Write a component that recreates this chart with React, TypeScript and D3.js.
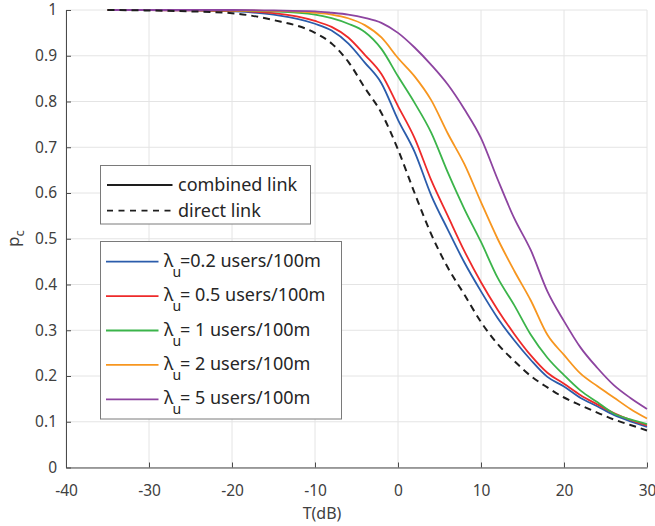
import { useEffect, useRef } from "react";
import * as d3 from "d3";

// T(dB) grid shared by every curve
const tValues = [-35, -30, -25, -20, -15, -10, -8, -6, -4, -2, 0, 2, 4, 6, 8, 10, 12, 14, 16, 18, 20, 22, 24, 26, 28, 30];

// direct link (dashed)
const directLink = [1.0, 0.999, 0.997, 0.993, 0.978, 0.95, 0.927, 0.887, 0.83, 0.775, 0.695, 0.6, 0.51, 0.437, 0.378, 0.318, 0.27, 0.233, 0.2, 0.175, 0.153, 0.136, 0.12, 0.105, 0.093, 0.081];

// combined link, one per lambda_u
const lambda02 = [1.0, 1.0, 0.999, 0.997, 0.99, 0.97, 0.955, 0.927, 0.885, 0.84, 0.76, 0.69, 0.595, 0.52, 0.448, 0.385, 0.327, 0.278, 0.235, 0.198, 0.177, 0.152, 0.134, 0.115, 0.101, 0.089];
const lambda05 = [1.0, 1.0, 0.999, 0.998, 0.993, 0.976, 0.963, 0.94, 0.902, 0.86, 0.79, 0.72, 0.628, 0.55, 0.473, 0.405, 0.345, 0.292, 0.245, 0.207, 0.183, 0.158, 0.138, 0.119, 0.104, 0.092];
const lambda1 = [1.0, 1.0, 1.0, 0.999, 0.997, 0.99, 0.982, 0.97, 0.952, 0.915, 0.855, 0.797, 0.732, 0.645, 0.565, 0.493, 0.415, 0.355, 0.29, 0.24, 0.202, 0.168, 0.143, 0.118, 0.105, 0.095];
const lambda2 = [1.0, 1.0, 1.0, 0.999, 0.998, 0.994, 0.99, 0.982, 0.967, 0.94, 0.895, 0.855, 0.803, 0.73, 0.663, 0.58, 0.5, 0.43, 0.365, 0.29, 0.246, 0.205, 0.178, 0.153, 0.128, 0.107];
const lambda5 = [1.0, 1.0, 1.0, 1.0, 0.999, 0.997, 0.994, 0.99, 0.983, 0.972, 0.95, 0.918, 0.88, 0.837, 0.783, 0.72, 0.63, 0.545, 0.475, 0.385, 0.32, 0.262, 0.218, 0.18, 0.152, 0.128];

const seriesLabels = ["=0.2 users/100m", "= 0.5 users/100m", "= 1 users/100m", "= 2 users/100m", "= 5 users/100m"];
const seriesColors = ["#2b5cab", "#ee2a2a", "#3bb44a", "#f7961f", "#8d44a0"];
const seriesValues = [lambda02, lambda05, lambda1, lambda2, lambda5];

const xTicks = [-40, -30, -20, -10, 0, 10, 20, 30];
const yTicks = [0, 0.1, 0.2, 0.3, 0.4, 0.5, 0.6, 0.7, 0.8, 0.9, 1];

const FONT = "'Noto Sans', 'Open Sans', sans-serif";

const App = () => {
  const ref = useRef<SVGSVGElement>(null);

  useEffect(() => {
    if (!ref.current) return;
    const svg = d3.select(ref.current);
    svg.selectAll("*").remove();

    const x = d3.scaleLinear().domain([-40, 30]).range([66, 647]);
    const y = d3.scaleLinear().domain([0, 1]).range([467.5, 10]);

    // grid
    svg.append("g")
      .selectAll("line")
      .data(xTicks)
      .enter()
      .append("line")
      .attr("x1", (d) => x(d))
      .attr("x2", (d) => x(d))
      .attr("y1", y(0))
      .attr("y2", y(1))
      .attr("stroke", "#e4e4e4")
      .attr("stroke-width", 1);

    svg.append("g")
      .selectAll("line")
      .data(yTicks)
      .enter()
      .append("line")
      .attr("x1", x(-40))
      .attr("x2", x(30))
      .attr("y1", (d) => y(d))
      .attr("y2", (d) => y(d))
      .attr("stroke", "#e4e4e4")
      .attr("stroke-width", 1);

    // axes (ticks inward, like matlab)
    const xAxis = svg.append("g")
      .attr("transform", `translate(0,${y(0)})`)
      .call(d3.axisBottom(x).tickValues(xTicks).tickSize(-5).tickSizeOuter(0).tickPadding(17).tickFormat((d) => String(d)));
    const yAxis = svg.append("g")
      .attr("transform", `translate(${x(-40)},0)`)
      .call(d3.axisLeft(y).tickValues(yTicks).tickSize(-5).tickSizeOuter(0).tickPadding(9).tickFormat((d) => String(d)));

    [xAxis, yAxis].forEach((ax) => {
      ax.select(".domain").attr("stroke", "#4a4a4a").attr("stroke-width", 1);
      ax.selectAll(".tick line").attr("stroke", "#4a4a4a");
      ax.selectAll("text")
        .style("font-family", FONT)
        .style("font-size", "15.5px")
        .attr("fill", "#404040");
    });

    // curves
    const line = d3.line<number>()
      .x((d, i) => x(tValues[i]))
      .y((d) => y(d))
      .curve(d3.curveMonotoneX);

    seriesValues.forEach((vals, i) => {
      svg.append("path")
        .datum(vals)
        .attr("fill", "none")
        .attr("stroke", seriesColors[i])
        .attr("stroke-width", 1.8)
        .attr("d", line);
    });

    svg.append("path")
      .datum(directLink)
      .attr("fill", "none")
      .attr("stroke", "#1e1e1e")
      .attr("stroke-width", 2)
      .attr("stroke-dasharray", "7,5")
      .attr("d", line);

    // axis labels
    svg.append("text")
      .attr("x", 322)
      .attr("y", 519)
      .attr("text-anchor", "middle")
      .style("font-family", FONT)
      .style("font-size", "16px")
      .attr("fill", "#404040")
      .text("T(dB)");

    const yl = svg.append("text")
      .attr("transform", "translate(19,247) rotate(-90)")
      .style("font-family", FONT)
      .style("font-size", "17px")
      .attr("fill", "#404040");
    yl.append("tspan").text("p");
    yl.append("tspan").attr("dy", 5).style("font-size", "13px").text("c");

    // legend 1: line styles
    const lg1 = svg.append("g");
    lg1.append("rect")
      .attr("x", 100.5).attr("y", 165.5).attr("width", 210).attr("height", 58.5)
      .attr("fill", "#fff").attr("stroke", "#7a7a7a").attr("stroke-width", 1);
    const styleRows = [
      { label: "combined link", dash: null },
      { label: "direct link", dash: "6,5.5" },
    ];
    styleRows.forEach((r, i) => {
      const cy = 185 + i * 25.7;
      lg1.append("line")
        .attr("x1", 107).attr("x2", 172.5).attr("y1", cy).attr("y2", cy)
        .attr("stroke", "#1e1e1e").attr("stroke-width", 1.8)
        .attr("stroke-dasharray", r.dash);
      lg1.append("text")
        .attr("x", 178).attr("y", cy + 6)
        .style("font-family", FONT).style("font-size", "18px")
        .attr("fill", "#262626")
        .text(r.label);
    });

    // legend 2: lambda_u
    const lg2 = svg.append("g");
    lg2.append("rect")
      .attr("x", 100.5).attr("y", 241.5).attr("width", 241).attr("height", 177.5)
      .attr("fill", "#fff").attr("stroke", "#7a7a7a").attr("stroke-width", 1);
    seriesLabels.forEach((lab, i) => {
      const cy = 261.7 + i * 34.4;
      lg2.append("line")
        .attr("x1", 106).attr("x2", 158.5).attr("y1", cy).attr("y2", cy)
        .attr("stroke", seriesColors[i]).attr("stroke-width", 1.8);
      lg2.append("text")
        .attr("x", 164).attr("y", cy + 5)
        .style("font-family", FONT).style("font-size", "18px")
        .attr("fill", "#262626")
        .text("λ");
      lg2.append("text")
        .attr("x", 172.5).attr("y", cy + 15)
        .style("font-family", FONT).style("font-size", "14px")
        .attr("fill", "#262626")
        .text("u");
      lg2.append("text")
        .attr("x", 180).attr("y", cy + 5)
        .style("font-family", FONT).style("font-size", "18px")
        .attr("fill", "#262626")
        .text(lab);
    });
  }, []);

  return (
    <svg
      ref={ref}
      width={655}
      height={526}
      style={{ position: "absolute", left: 0, top: 0, background: "#fff" }}
    />
  );
};

export default App;
